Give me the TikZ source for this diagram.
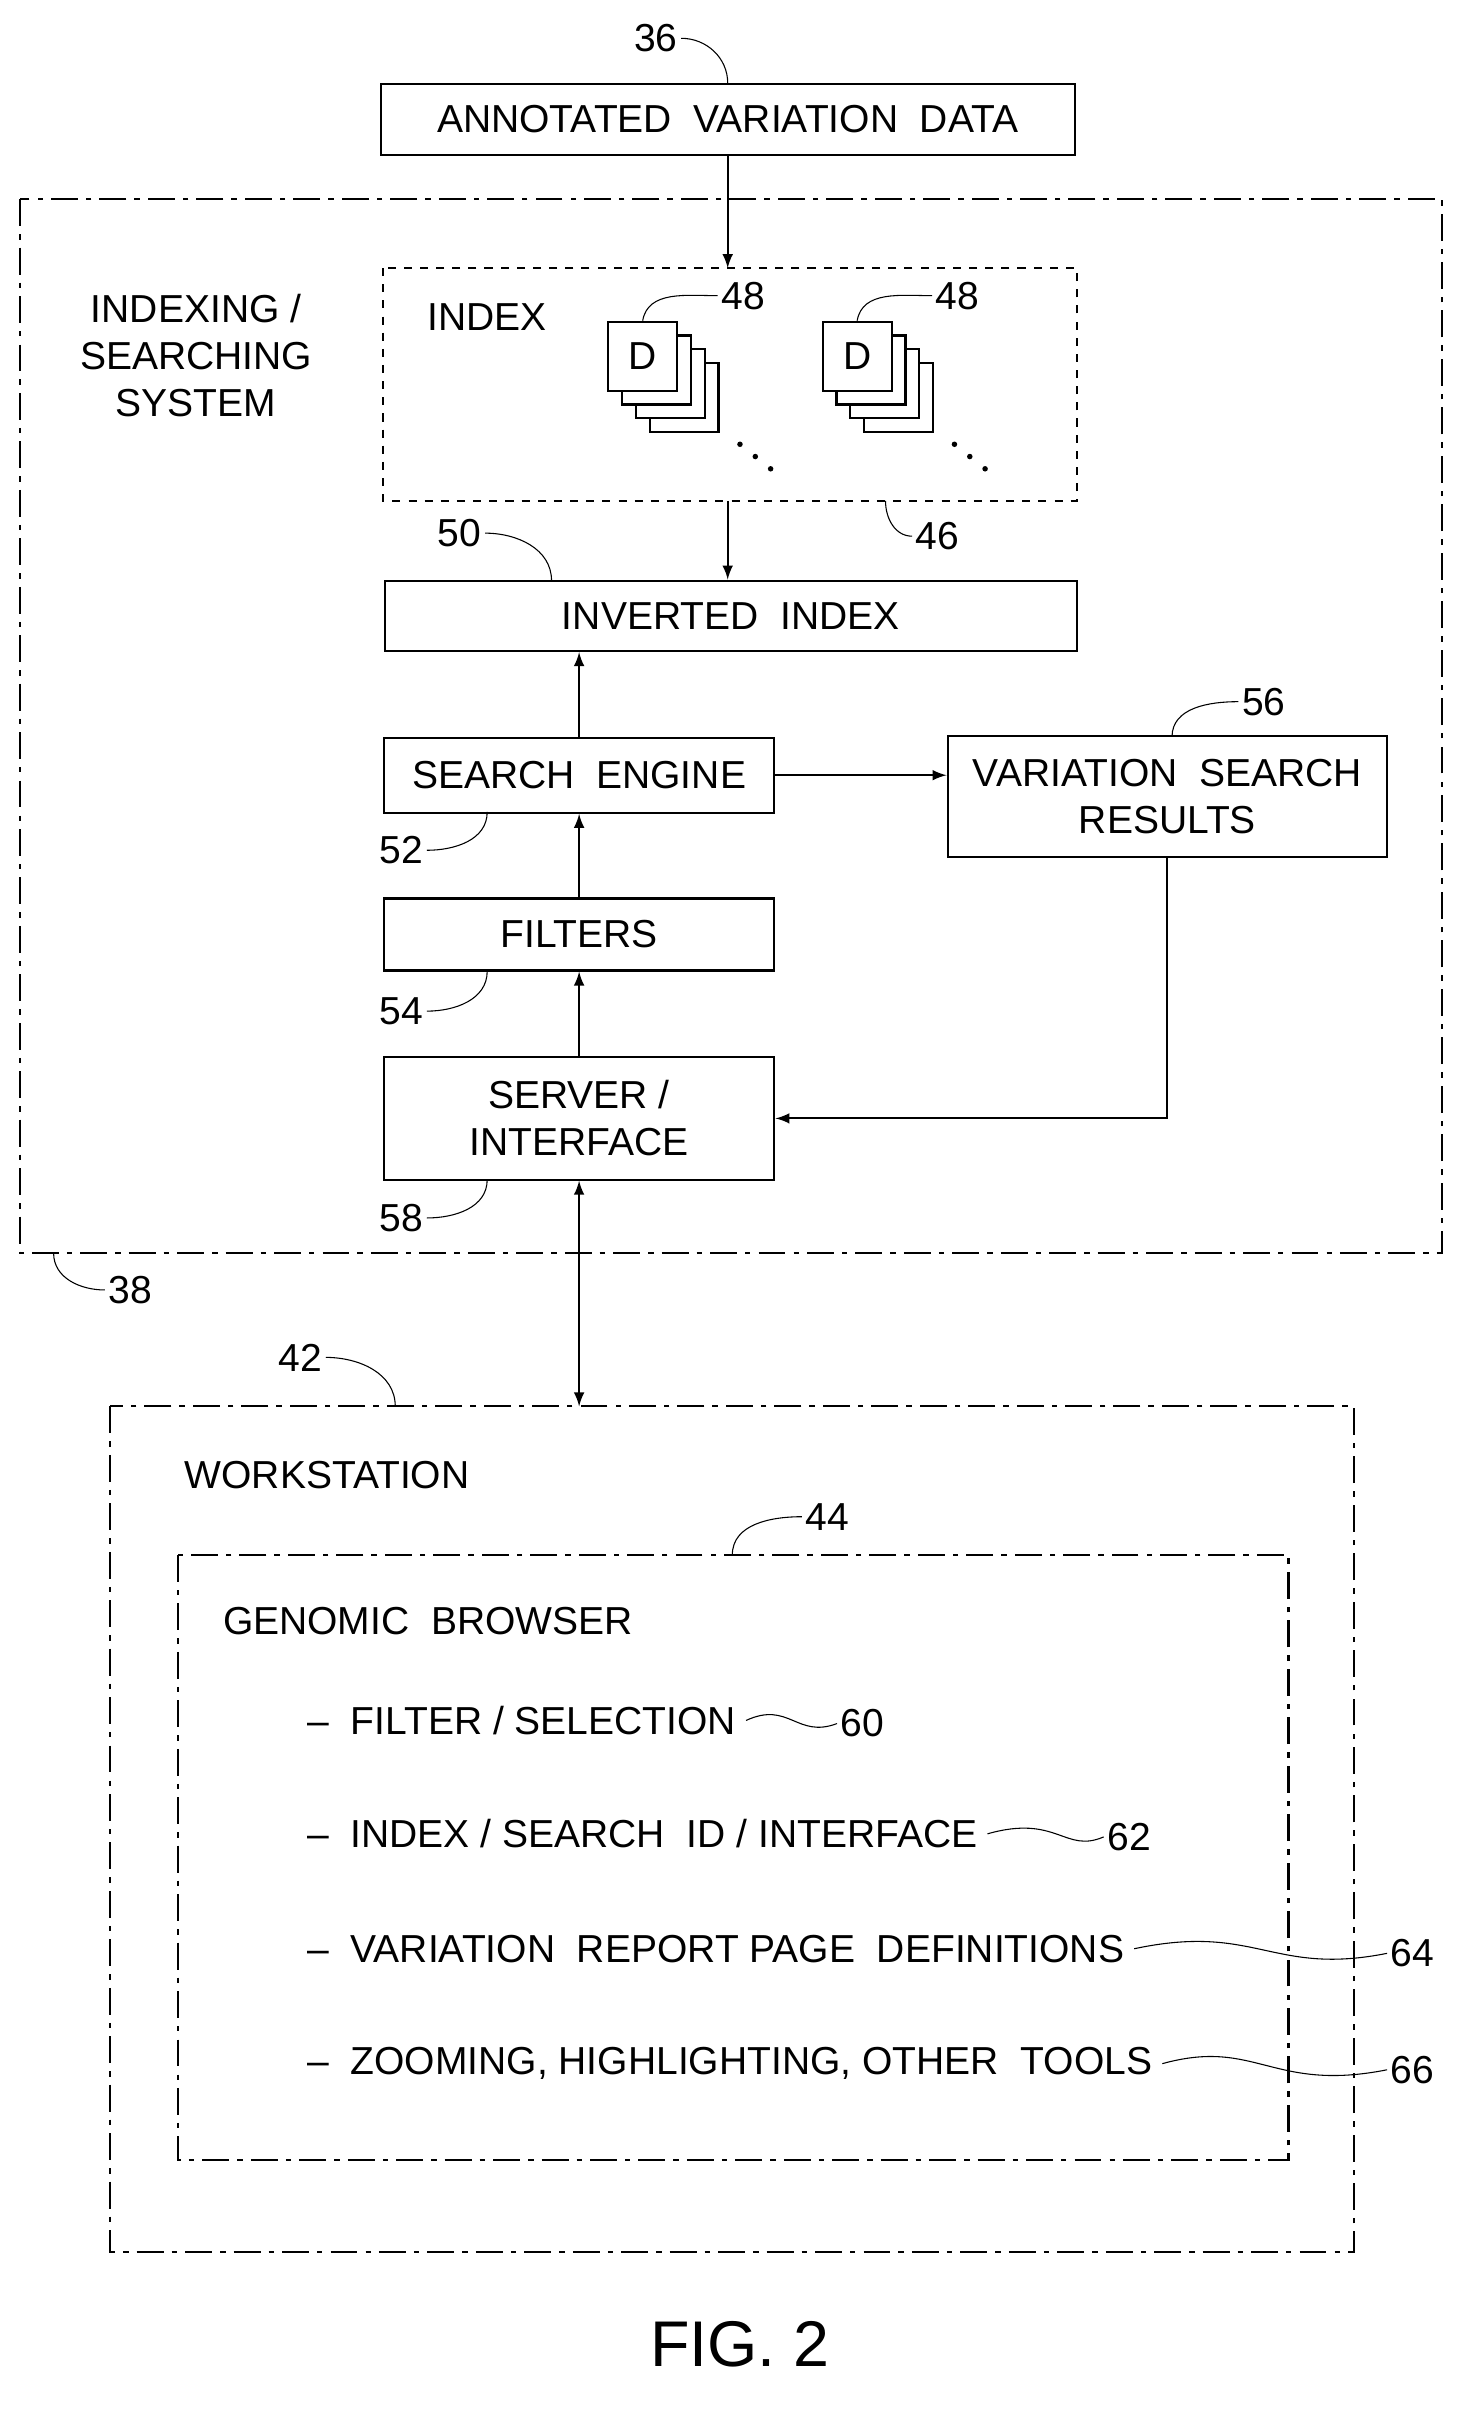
\documentclass[tikz,border=0pt]{standalone}
\usepackage{fontspec}
\setmainfont{Liberation Sans}
\usetikzlibrary{positioning,arrows}

\begin{document}
\begin{tikzpicture}[x=0.02cm,y=-0.02cm,thick,font=\fontsize{14.5}{17.5}\selectfont,
	box/.style={draw,thick,minimum height=0.92cm,inner sep=0pt,align=center},
	dashdot/.style={draw,thick,dash pattern=on 10pt off 3pt on 2pt off 3pt},
	lead/.style={thin},
	lbl/.style={inner sep=1pt},
	arr/.style={-latex}]

	\useasboundingbox (0,0) rectangle (960,1577);

	%top
	\node[box,minimum width=9.06cm] (avd) at (475,78) {ANNOTATED \ VARIATION \ DATA};
	\node[lbl] (l36) at (428,25) {36};
	\draw[lead] (l36.east) to[out=0,in=90] (avd.north);

	%system box
	\draw[dashdot] (13,130) rectangle (941,818);
	\coordinate (c38) at (35,818);
	\node[lbl] (l38) at (85,842) {38};
	\draw[lead] (c38) to[out=-90,in=180] (l38.west);
	\node[align=center] (sys) at (128,232) {INDEXING /\\SEARCHING\\SYSTEM};

	%index
	\draw[thick,dashed] (250,175) rectangle (703,327);
	\coordinate (idxtop) at (475,175);
	\coordinate (idxbot) at (475,327);
	\node (idx) at (318,207) {INDEX};
	\coordinate (c46) at (578,327);
	\node[lbl] (l46) at (612,350) {46};
	\draw[lead] (c46) to[out=-90,in=180] (l46.west);

	%document stacks
	\foreach \x/\n in {397/d1,537/d2}{
		\foreach \k in {3,2,1}
			\draw[fill=white] (\x+9*\k,210+9*\k) rectangle ++(45,45);
		\node[draw,fill=white,minimum width=0.9cm,minimum height=0.9cm,inner sep=0pt] (\n) at (\x+22.5,232.5) {D};
		\foreach \k in {0,1,2}
			\fill (\x+86+10*\k,290+8*\k) circle (1.8);
	}
	\node[lbl] (l48a) at (485,193) {48};
	\node[lbl] (l48b) at (625,193) {48};
	\draw[lead] (d1.north) to[out=80,in=180] (l48a.west);
	\draw[lead] (d2.north) to[out=80,in=180] (l48b.west);

	%inverted index
	\node[box,minimum width=9.04cm] (inv) at (477,402) {INVERTED \ INDEX};
	\node[lbl] (l50) at (300,348) {50};
	\draw[lead] (l50.east) to[out=0,in=90] (360,379);

	%search engine, filters, server
	\node[box,minimum width=5.1cm,minimum height=0.98cm] (se) at (378,506) {SEARCH \ ENGINE};
	\node[box,minimum width=5.1cm,minimum height=0.94cm] (fil) at (378,610) {FILTERS};
	\node[box,minimum width=5.1cm,minimum height=1.6cm] (srv) at (378,730) {SERVER /\\INTERFACE};
	\node[box,minimum width=5.74cm,minimum height=1.58cm] (vsr) at (762,520) {VARIATION \ SEARCH\\RESULTS};

	\node[lbl] (l52) at (262,555) {52};
	\node[lbl] (l54) at (262,660) {54};
	\node[lbl] (l58) at (262,795) {58};
	\node[lbl] (l56) at (825,458) {56};
	\draw[lead] (l52.east) to[out=0,in=-90] (318,530);
	\draw[lead] (l54.east) to[out=0,in=-90] (318,634);
	\draw[lead] (l58.east) to[out=0,in=-90] (318,770);
	\draw[lead] (l56.west) to[out=180,in=90] (765,481);

	%workstation
	\draw[dashdot] (72,918) rectangle (884,1470);
	\coordinate (wtop) at (378,918);
	\node[anchor=west] (ws) at (114,963) {WORKSTATION};
	\node[lbl] (l42) at (196,886) {42};
	\draw[lead] (l42.east) to[out=0,in=90] (258,918);

	\draw[dashdot] (116,1015) rectangle (841,1410);
	\node[anchor=west] (gb) at (139,1058) {GENOMIC \ BROWSER};
	\node[lbl] (l44) at (540,990) {44};
	\draw[lead] (478,1015) to[out=90,in=180] (l44.west);

	%browser items
	\node[anchor=west] (i60) at (194,1123) {-- \ FILTER / SELECTION};
	\node[anchor=west] (i62) at (194,1197) {-- \ INDEX / SEARCH \ ID / INTERFACE};
	\node[anchor=west] (i64) at (194,1272) {-- \ VARIATION \ REPORT PAGE \ DEFINITIONS};
	\node[anchor=west] (i66) at (194,1347) {-- \ ZOOMING, HIGHLIGHTING, OTHER \ TOOLS};
	\node[lbl] (l60) at (563,1125) {60};
	\node[lbl] (l62) at (737,1199) {62};
	\node[lbl] (l64) at (922,1275) {64};
	\node[lbl] (l66) at (922,1351) {66};
	\draw[lead] (i60.east) .. controls (515,1110) and (520,1135) .. (l60.west);
	\draw[lead] (i62.east) .. controls (690,1184) and (695,1210) .. (l62.west);
	\draw[lead] (i64.east) .. controls (820,1255) and (830,1290) .. (l64.west);
	\draw[lead] (i66.east) .. controls (820,1330) and (830,1366) .. (l66.west);

	%arrows
	\draw[arr] (avd.south) -- (idxtop);
	\draw[arr] (idxbot) -- (inv.north -| idxbot);
	\draw[arr] (se.north) -- (inv.south -| se.north);
	\draw[arr] (fil.north) -- (se.south);
	\draw[arr] (srv.north) -- (fil.south);
	\draw[arr] (se.east) -- (se.east -| vsr.west);
	\draw[arr] (vsr.south) |- (srv.east);
	\draw[latex-latex] (srv.south) -- (wtop);

	\node[font=\fontsize{24}{28}\selectfont] (fig) at (483,1530) {FIG. 2};
\end{tikzpicture}
\end{document}
